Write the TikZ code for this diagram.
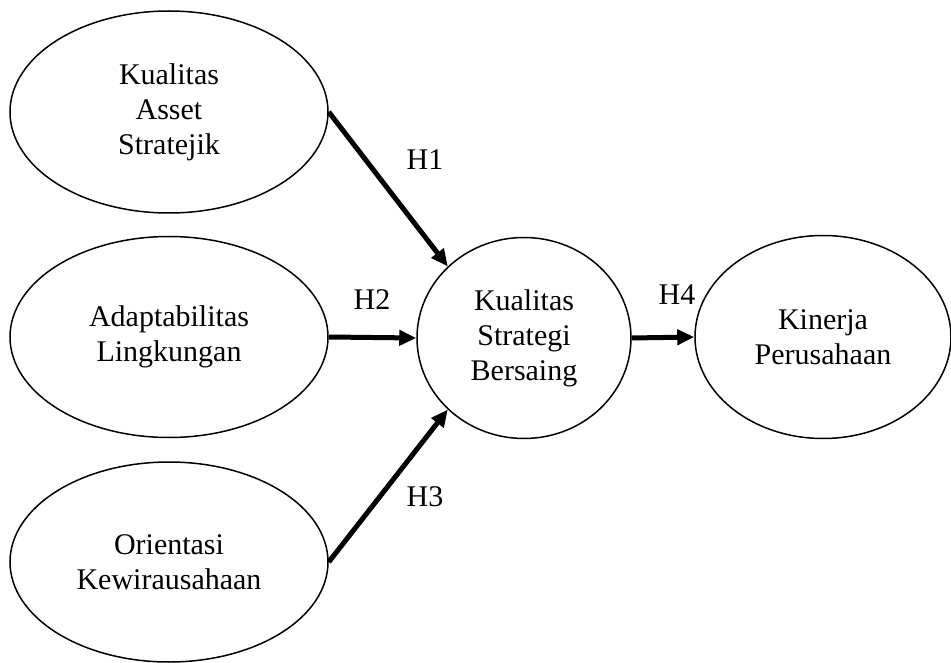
\documentclass[tikz,border=0pt]{standalone}
\usepackage{fontspec}
\setmainfont{Liberation Serif}
\usetikzlibrary{shapes.geometric,arrows.meta}

\begin{document}
\begin{tikzpicture}[x=1pt,y=-1pt]
\tikzstyle{every node}=[font=\fontsize{30}{35}\selectfont,align=center];
\tikzstyle{var}=[draw,shape=ellipse,line width=1.5pt,inner sep=0pt];
\tikzstyle{path}=[line width=5pt,-{Triangle[length=17pt,width=15pt]}];
\useasboundingbox (0,0) rectangle (951,663);
\node[var,minimum width=318pt,minimum height=202pt] (asset) at (169,112) {Kualitas\\Asset\\Stratejik};
\node[var,minimum width=318pt,minimum height=201pt] (adapt) at (169,337) {Adaptabilitas\\Lingkungan};
\node[var,minimum width=318pt,minimum height=200pt] (orient) at (169,562) {Orientasi\\Kewirausahaan};
\node[var,minimum width=214pt,minimum height=201pt] (strat) at (524,338) {Kualitas\\Strategi\\Bersaing};
\node[var,minimum width=256pt,minimum height=203pt] (kinerja) at (823,337) {Kinerja\\Perusahaan};
% hipotesis
\draw[path] (asset.east) -- (strat.north west);
\draw[path] (adapt.east) -- (strat.west);
\draw[path] (orient.east) -- (strat.south west);
\draw[path] (strat.east) -- (kinerja.west);
\node (h1) at (425,160) {H1};
\node (h2) at (372,300) {H2};
\node (h3) at (425,497) {H3};
\node (h4) at (677,295) {H4};
\end{tikzpicture}
\end{document}
